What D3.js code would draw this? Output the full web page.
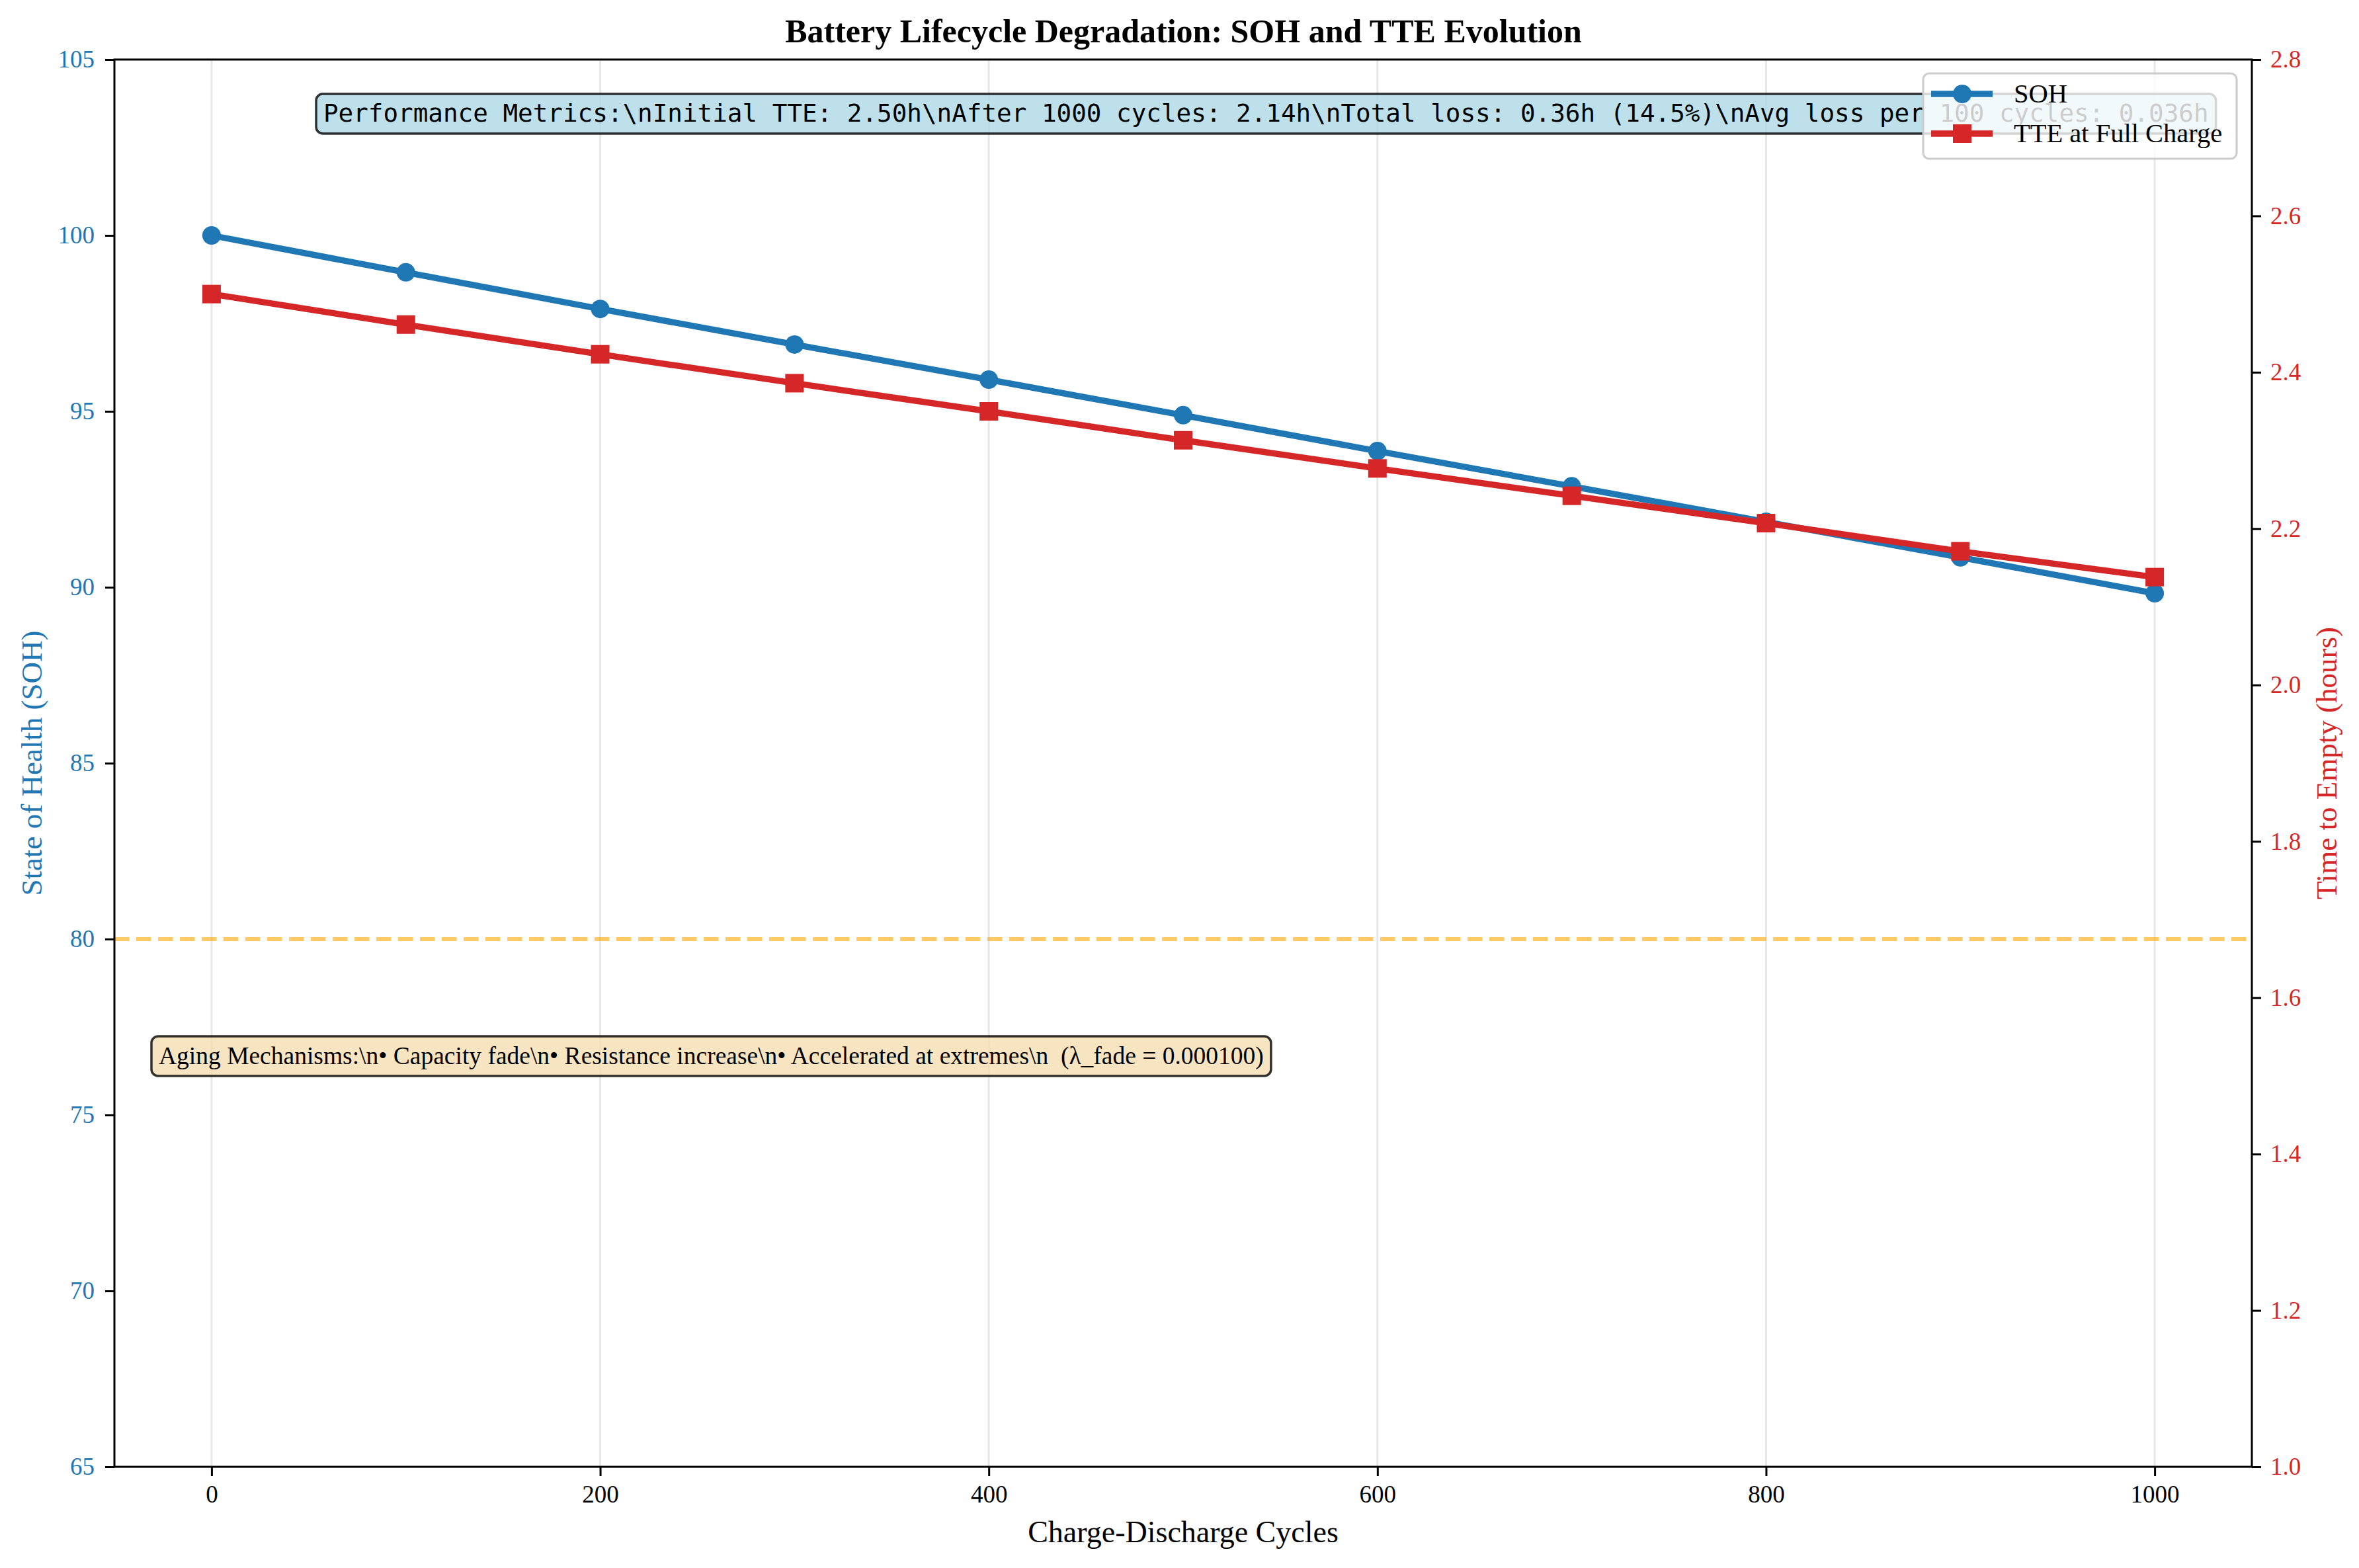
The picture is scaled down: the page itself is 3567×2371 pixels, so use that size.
<!DOCTYPE html>
<html>
<head>
<meta charset="utf-8">
<script src="https://cdn.jsdelivr.net/npm/d3@7"></script>
<style>
  body { margin: 0; background: #fff; }
  text { font-family: "Liberation Serif", "Times New Roman", serif; }
</style>
</head>
<body>
<svg id="chart"></svg>
<script>
// data
const cycles = [0, 100, 200, 300, 400, 500, 600, 700, 800, 900, 1000];
const sohValues = [100, 98.95, 97.91, 96.9, 95.9, 94.89, 93.87, 92.87, 91.86, 90.85, 89.83];
const tteValues = [2.50, 2.461, 2.423, 2.386, 2.350, 2.313, 2.277, 2.242, 2.207, 2.171, 2.138];
const xTicks = [0, 200, 400, 600, 800, 1000];
const sohTicks = [65, 70, 75, 80, 85, 90, 95, 100, 105];
const tteTicks = [1.0, 1.2, 1.4, 1.6, 1.8, 2.0, 2.2, 2.4, 2.6, 2.8];
const seriesNames = ['SOH', 'TTE at Full Charge'];
const eolThreshold = 80;
const perfText = 'Performance Metrics:\\nInitial TTE: 2.50h\\nAfter 1000 cycles: 2.14h\\nTotal loss: 0.36h (14.5%)\\nAvg loss per 100 cycles: 0.036h';
const agingText = 'Aging Mechanisms:\\n\u2022 Capacity fade\\n\u2022 Resistance increase\\n\u2022 Accelerated at extremes\\n  (\u03bb_fade = 0.000100)';

const W = 3567, H = 2371;
const m = { left: 173, right: 3405, top: 90, bottom: 2218 };
const blue = '#1f77b4', red = '#d62728';

const svg = d3.select('#chart').attr('width', W).attr('height', H);
svg.append('rect').attr('width', W).attr('height', H).attr('fill', '#fff');

const x = d3.scaleLinear().domain([-50, 1050]).range([m.left, m.right]);
const yL = d3.scaleLinear().domain([65, 105]).range([m.bottom, m.top]);
const yR = d3.scaleLinear().domain([1.0, 2.8]).range([m.bottom, m.top]);

// vertical grid
svg.append('g').selectAll('line').data(xTicks).join('line')
  .attr('x1', d => x(d)).attr('x2', d => x(d))
  .attr('y1', m.top).attr('y2', m.bottom)
  .attr('stroke', '#b0b0b0').attr('stroke-opacity', 0.3).attr('stroke-width', 3);

// end-of-life threshold
svg.append('line')
  .attr('x1', m.left).attr('x2', m.right)
  .attr('y1', yL(eolThreshold)).attr('y2', yL(eolThreshold))
  .attr('stroke', 'orange').attr('stroke-opacity', 0.6)
  .attr('stroke-width', 6).attr('stroke-dasharray', '22.5,10.5');

// SOH series
const sohLine = d3.line().x((d, i) => x(cycles[i])).y(d => yL(d));
svg.append('path').datum(sohValues).attr('d', sohLine)
  .attr('fill', 'none').attr('stroke', blue).attr('stroke-width', 9.4).attr('stroke-linejoin', 'round');
svg.append('g').selectAll('circle').data(sohValues).join('circle')
  .attr('cx', (d, i) => x(cycles[i])).attr('cy', d => yL(d)).attr('r', 14).attr('fill', blue);

// TTE series
const tteLine = d3.line().x((d, i) => x(cycles[i])).y(d => yR(d));
svg.append('path').datum(tteValues).attr('d', tteLine)
  .attr('fill', 'none').attr('stroke', red).attr('stroke-width', 9.4).attr('stroke-linejoin', 'round');
svg.append('g').selectAll('rect').data(tteValues).join('rect')
  .attr('x', (d, i) => x(cycles[i]) - 14).attr('y', d => yR(d) - 14)
  .attr('width', 28).attr('height', 28).attr('fill', red);

// axes
function styleAxis(g, color) {
  g.select('.domain').remove();
  g.selectAll('.tick line').attr('stroke', '#000').attr('stroke-width', 3);
  g.selectAll('.tick text').attr('fill', color).style('font-size', '37px')
    .style('font-family', '"Liberation Serif", serif');
}
svg.append('g').attr('transform', `translate(0,${m.bottom})`)
  .call(d3.axisBottom(x).tickValues(xTicks).tickSize(14).tickPadding(14).tickFormat(d3.format('d')))
  .call(g => styleAxis(g, '#000'));
svg.append('g').attr('transform', `translate(${m.left},0)`)
  .call(d3.axisLeft(yL).tickValues(sohTicks).tickSize(14).tickPadding(16).tickFormat(d3.format('d')))
  .call(g => styleAxis(g, blue));
svg.append('g').attr('transform', `translate(${m.right},0)`)
  .call(d3.axisRight(yR).tickValues(tteTicks).tickSize(14).tickPadding(14).tickFormat(d3.format('.1f')))
  .call(g => styleAxis(g, red));

// spines
svg.append('rect').attr('x', m.left).attr('y', m.top)
  .attr('width', m.right - m.left).attr('height', m.bottom - m.top)
  .attr('fill', 'none').attr('stroke', '#000').attr('stroke-width', 3);

// labels and title
svg.append('text').attr('x', W / 2 + 6).attr('y', 64).attr('text-anchor', 'middle')
  .style('font-size', '50px').style('font-weight', 'bold')
  .text('Battery Lifecycle Degradation: SOH and TTE Evolution');
svg.append('text').attr('x', (m.left + m.right) / 2).attr('y', 2332).attr('text-anchor', 'middle')
  .style('font-size', '46px').text('Charge-Discharge Cycles');
svg.append('text').attr('transform', `translate(47,${(m.top + m.bottom) / 2}) rotate(-90)`)
  .attr('text-anchor', 'middle').attr('dy', '0.35em').attr('fill', blue)
  .style('font-size', '45px').text('State of Health (SOH)');
svg.append('text').attr('transform', `translate(3517,${(m.top + m.bottom) / 2}) rotate(-90)`)
  .attr('text-anchor', 'middle').attr('dy', '0.35em').attr('fill', red)
  .style('font-size', '45px').text('Time to Empty (hours)');

// annotation boxes
function boxedText(tx, cy, str, font, size, fill) {
  const g = svg.append('g');
  const box = g.append('rect');
  const t = g.append('text').attr('x', tx).attr('y', cy).attr('dy', '0.33em')
    .style('font-size', size + 'px').style('font-family', font).style('white-space', 'pre')
    .text(str);
  const bb = t.node().getBBox();
  const pad = 11;
  box.attr('x', bb.x - pad).attr('y', cy - 30).attr('width', bb.width + 2 * pad).attr('height', 60)
    .attr('rx', 10).attr('fill', fill).attr('fill-opacity', 0.8)
    .attr('stroke', '#000').attr('stroke-opacity', 0.8).attr('stroke-width', 3.5);
  return g;
}
boxedText(489, 172, perfText, '"DejaVu Sans Mono", monospace', 37.6, '#add8e6');
boxedText(240, 1597, agingText, '"Liberation Serif", serif', 37.5, '#f5deb3');

// legend
const legend = svg.append('g');
legend.append('rect').attr('x', 2908).attr('y', 111).attr('width', 474).attr('height', 129)
  .attr('rx', 9).attr('fill', '#fff').attr('fill-opacity', 0.8)
  .attr('stroke', '#cccccc').attr('stroke-width', 3);
const items = legend.selectAll('g.item').data(seriesNames).join('g')
  .attr('transform', (d, i) => `translate(0,${142 + i * 60})`);
items.append('line').attr('x1', 2920).attr('x2', 3013)
  .attr('stroke', (d, i) => i ? red : blue).attr('stroke-width', 9.4);
items.each(function (d, i) {
  const g = d3.select(this);
  if (i === 0) g.append('circle').attr('cx', 2967).attr('r', 14).attr('fill', blue);
  else g.append('rect').attr('x', 2953).attr('y', -14).attr('width', 28).attr('height', 28).attr('fill', red);
});
items.append('text').attr('x', 3045).attr('dy', '0.33em').style('font-size', '40.5px').text(d => d);
</script>
</body>
</html>
